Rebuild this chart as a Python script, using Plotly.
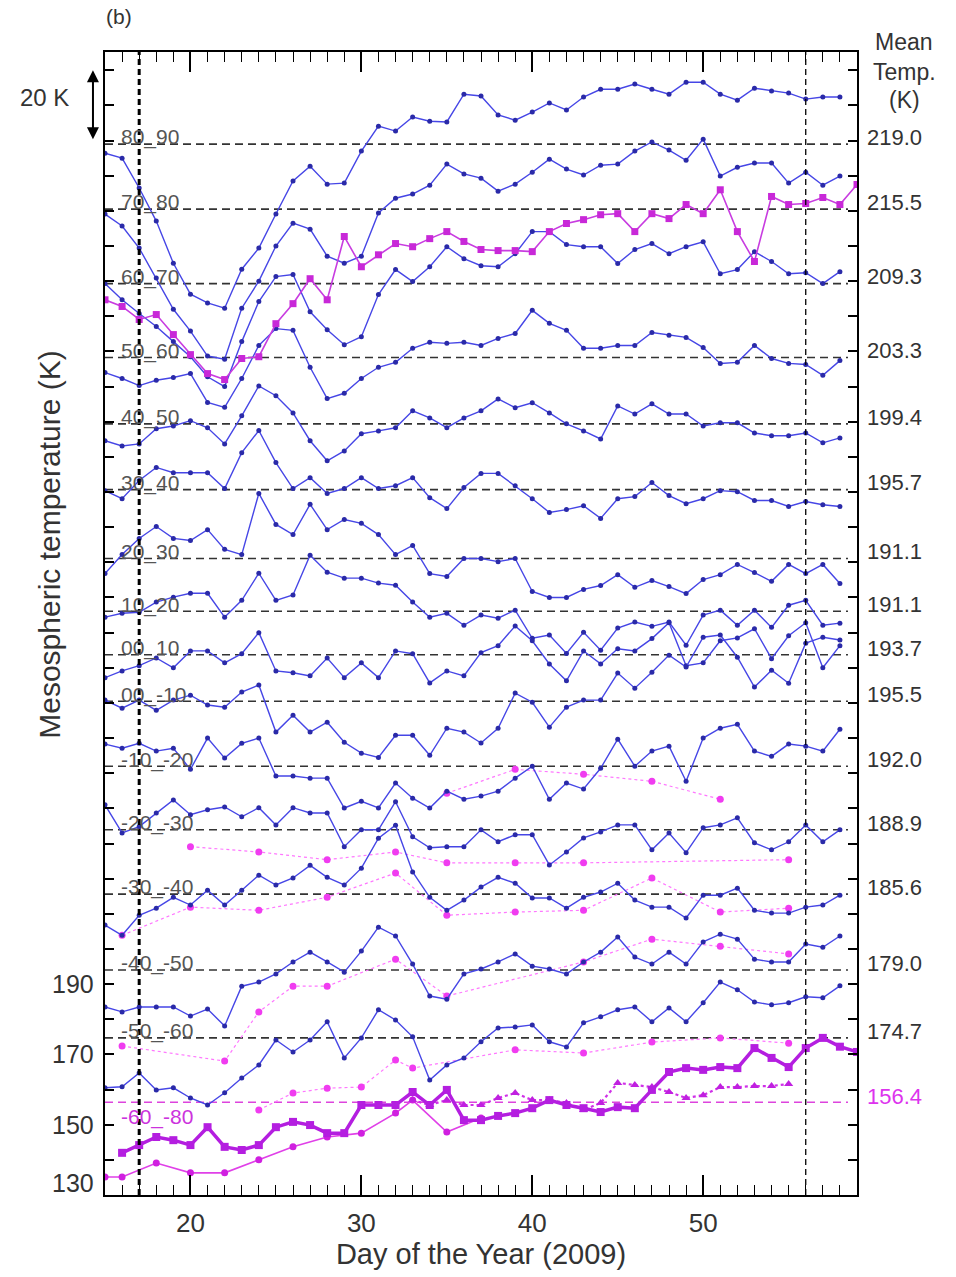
import plotly.graph_objects as go

# ---------------- data ----------------
days = list(range(15, 59))          # days of year for the blue (daily) series
days_ext = list(range(15, 60))      # top magenta series runs to day 59

band_names = ["80_90", "70_80", "60_70", "50_60", "40_50", "30_40", "20_30",
              "10_20", "00_10", "00_-10", "-10_-20", "-20_-30", "-30_-40",
              "-40_-50", "-50_-60"]
band_means = [219.0, 215.5, 209.3, 203.3, 199.4, 195.7, 191.1, 191.1, 193.7,
              195.5, 192.0, 188.9, 185.6, 179.0, 174.7]
band_offsets = [210, 195, 180, 165, 150, 135, 120, 105, 90, 75, 60, 45, 30, 15, 0]

bottom_name = "-60_-80"
bottom_mean = 156.4

# temperature deviation from band mean (K), days 15..58
dT_80_90 = [-2.6, -4.0, -12.5, -21.9, -33.9, -42.7, -45.2, -46.7, -35.6, -29.6, -19.9, -10.5, -6.3, -11.4, -11.1, -2.0,
            5.1, 3.7, 7.7, 6.5, 6.3, 14.2, 13.7, 8.3, 6.8, 9.1, 11.7, 9.7, 13.4, 15.6, 15.6, 17.1, 15.6, 14.2,
            17.6, 17.6, 14.2, 12.5, 15.9, 15.1, 14.5, 12.8, 13.4, 13.4]
dT_70_80 = [-1.4, -4.8, -11.1, -19.6, -28.5, -34.7, -41.8, -42.7, -28.2, -20.5, -10.5, -4.0, -5.7, -13.4, -15.4, -13.4,
            -1.1, 3.1, 4.3, 6.8, 12.8, 10.0, 8.8, 5.1, 7.1, 10.5, 14.2, 11.4, 9.7, 12.5, 12.8, 16.5, 19.1, 16.8,
            13.9, 19.9, 9.4, 11.9, 13.1, 13.1, 7.4, 10.5, 6.8, 9.4]
dT_60_70 = [0.0, -4.6, -8.5, -12.2, -16.5, -20.8, -26.5, -29.3, -16.5, -5.1, 2.0, 2.6, -8.0, -13.1, -17.4, -15.1,
            -3.1, 4.0, 0.6, 4.8, 10.5, 7.1, 5.1, 4.8, 8.5, 14.8, 14.8, 11.1, 10.5, 10.5, 5.7, 9.7, 11.4, 8.5,
            10.5, 11.9, 2.8, 4.0, 9.1, 6.3, 2.8, 3.1, 0.0, 3.4]
dT_50_60 = [-4.3, -6.0, -8.0, -6.5, -5.7, -4.6, -12.8, -14.2, -6.0, 3.4, 8.2, 7.7, -2.8, -11.7, -10.2, -6.0,
            -2.8, -1.4, 2.6, 4.3, 4.0, 4.3, 3.4, 5.4, 6.8, 13.4, 9.7, 7.7, 2.6, 2.6, 3.4, 3.4, 7.1, 6.3,
            5.7, 2.8, -1.7, -1.4, 3.4, -0.3, -1.7, -2.0, -5.1, -0.9]
dT_40_50 = [-4.8, -6.3, -5.7, -1.4, -0.6, 0.9, -1.1, -5.7, 2.3, 10.8, 8.0, 3.1, -4.8, -10.5, -7.7, -2.8,
            -2.0, -1.1, 3.7, 1.7, -1.1, 1.7, 3.7, 7.1, 4.6, 6.0, 3.1, 0.0, -2.0, -4.3, 5.1, 2.8, 5.7, 2.8,
            2.8, -0.6, 0.3, 0.3, -2.6, -3.4, -3.4, -2.6, -5.4, -4.0]
dT_30_40 = [-0.3, -2.6, 2.6, 6.3, 4.8, 4.8, 4.8, 0.3, 10.5, 16.8, 7.7, 0.3, 3.4, -1.1, 0.3, 3.4,
            0.3, 1.1, 3.4, -2.3, -5.4, 0.6, 4.6, 4.6, 1.1, -2.6, -6.5, -5.7, -4.6, -8.2, -2.6, -2.0, 2.0, -1.7,
            -4.0, -2.6, -0.3, -0.6, -3.1, -3.1, -4.8, -3.4, -4.3, -4.8]
dT_20_30 = [-4.3, 1.1, 5.7, 9.1, 5.7, 5.1, 8.2, 2.6, 1.1, 18.5, 9.7, 6.8, 15.4, 8.2, 11.1, 10.0,
            6.8, 1.1, 3.7, -4.3, -5.1, 0.0, 0.0, -0.9, 0.0, -9.4, -11.1, -11.1, -8.8, -7.7, -4.6, -8.2, -6.3, -8.0,
            -10.0, -6.0, -4.6, -1.7, -4.0, -6.5, -1.7, -4.3, -1.7, -7.1]
dT_10_20 = [-1.7, -0.6, -0.3, 2.6, 4.0, 5.1, 5.1, -1.7, 3.1, 10.8, 3.1, 4.6, 15.9, 11.1, 9.4, 9.4,
            8.0, 7.4, 2.6, -1.7, -0.6, -4.0, -1.1, -2.0, 0.3, -7.7, -6.8, -12.0, -6.0, -11.1, -4.8, -3.1, -4.3, -3.1,
            -9.7, -1.1, 0.3, -4.0, 0.3, -4.6, 1.7, 3.1, -4.0, -3.4]
dT_00_10 = [-6.5, -4.6, -3.1, -0.9, -3.7, 1.1, 1.1, -2.3, 0.3, 6.3, -4.6, -5.1, -6.0, -0.9, -6.5, -2.3,
            -6.5, 1.1, 0.3, -8.0, -4.6, -6.0, 0.6, 2.6, 8.2, 4.0, -2.6, -7.4, 1.1, -2.6, 1.7, 1.1, 4.6, 9.1,
            -3.1, -2.3, 4.0, 4.8, 7.4, -1.1, 5.4, 9.1, -3.7, 2.6]
dT_00_m10 = [0.3, -2.0, 0.3, -2.6, 0.3, 1.7, -1.1, -1.7, 2.6, 4.6, -8.8, -4.0, -8.8, -6.0, -11.7, -14.8,
             -16.0, -9.7, -9.7, -15.4, -7.7, -8.8, -11.9, -7.7, 2.3, -0.3, -7.4, -1.7, 0.3, 0.3, 8.0, 3.7, 8.2, 13.1,
             9.7, 18.2, 18.8, 12.5, 4.0, 8.8, 5.1, 16.5, 18.2, 17.4]
dT_m10_m20 = [6.3, 5.1, 6.5, 4.3, 5.1, -0.9, 8.0, 2.3, 6.5, 8.0, -2.8, -2.8, -3.4, -3.4, -11.9, -10.0,
              -11.9, -4.8, -9.1, -11.9, -7.1, -9.4, -8.5, -7.1, -3.4, 0.0, -9.4, -4.8, -6.5, -0.6, 7.7, 0.0, 4.3, 5.7,
              -4.3, 8.0, 10.8, 11.9, 4.3, 2.8, 6.3, 5.7, 4.3, 10.5]
dT_m20_m30 = [7.1, -0.9, 0.9, 4.8, 8.5, 4.3, 5.7, 6.5, 3.7, 6.3, 1.4, 6.3, 4.8, 4.8, -4.8, 0.0,
              0.0, 8.0, -2.0, -5.1, -4.8, -4.8, 0.0, -3.4, -1.4, -1.4, -10.0, -6.3, -2.3, -0.6, 1.4, 1.4, -5.7, -0.9,
              -6.5, 0.6, 1.4, 3.4, -3.7, -5.7, -3.4, 1.4, -3.4, 0.0]
dT_m30_m40 = [-8.8, -11.7, -6.0, -4.0, -0.9, -3.1, 1.1, -3.1, 1.1, 5.4, 2.6, 4.6, 8.2, 4.8, 2.6, 7.4,
              15.9, 19.6, 6.3, -0.9, -4.6, -1.7, 2.0, 4.8, 3.1, -1.1, -1.1, -4.0, -0.9, 0.6, 3.1, -1.7, -3.7, -3.7,
              -6.8, -0.3, -0.3, 1.7, -4.6, -5.4, -5.4, -3.7, -3.1, -0.3]
dT_m40_m50 = [-10.5, -11.9, -10.5, -10.5, -10.5, -13.1, -11.1, -15.9, -4.6, -3.4, -1.1, 2.3, 5.1, 2.3, -0.6, 5.4,
              12.2, 9.7, 1.7, -7.4, -8.3, -1.1, 0.3, 2.3, 4.6, 1.1, 0.3, -1.1, 2.3, 5.1, 9.4, 3.7, 1.7, 5.1,
              1.7, 8.0, 10.2, 8.8, 3.1, 2.3, 2.3, 7.4, 6.5, 9.7]
dT_m50_m60 = [-14.2, -13.9, -10.0, -14.8, -14.2, -17.1, -19.1, -15.6, -11.4, -7.7, -0.6, -4.0, -0.6, 4.6, -5.7, 0.0,
              8.0, 5.1, 0.3, -12.0, -7.7, -5.7, -1.1, 2.8, 3.1, 3.7, -1.1, -2.6, 4.3, 6.0, 8.0, 8.8, 4.6, 8.5,
              4.6, 10.0, 15.9, 13.7, 10.2, 9.4, 10.0, 11.7, 11.4, 14.8]

blue_series = [dT_80_90, dT_70_80, dT_60_70, dT_50_60, dT_40_50, dT_30_40, dT_20_30,
               dT_10_20, dT_00_10, dT_00_m10, dT_m10_m20, dT_m20_m30, dT_m30_m40,
               dT_m40_m50, dT_m50_m60]

# magenta series in the 60_70 band (deviation from 209.3 K), days 15..59
dT_mag_60_70 = [-4.6, -6.5, -10.2, -8.8, -14.5, -20.2, -25.6, -27.3, -21.3, -20.8, -11.4, -5.7, 1.4, -4.6, 13.4,
                4.8, 8.2, 11.4, 10.5, 12.8, 14.8, 12.0, 9.7, 9.4, 9.4, 9.1, 14.8, 17.1, 18.2, 19.6, 19.9,
                14.8, 19.9, 18.5, 22.5, 19.9, 26.7, 14.8, 6.3, 24.8, 22.5, 22.8, 24.5, 22.5, 28.2]

# sparse magenta (dotted) series: days, deviation from the band mean
sp_a_days = [35, 39, 43, 47, 51]
sp_a_dT = [-7.7, -0.9, -2.3, -4.3, -9.4]                      # -10_-20 band
sp_b_days = [20, 24, 28, 32, 35, 39, 43, 55]
sp_b_dT = [-4.8, -6.3, -8.5, -6.3, -9.4, -9.4, -9.4, -8.5]     # -20_-30 band
sp_c_days = [16, 20, 24, 28, 32, 35, 39, 43, 47, 51, 55]
sp_c_dT = [-11.7, -3.7, -4.6, -0.9, 6.0, -6.0, -5.1, -4.6, 4.6, -5.1, -4.0]   # -30_-40 band
sp_d_days = [16, 22, 24, 26, 28, 32, 35, 43, 47, 51, 55]
sp_d_dT = [-21.6, -25.9, -11.9, -4.6, -4.6, 3.1, -7.4, 2.3, 8.8, 6.8, 4.6]    # -40_-50 band

# bottom band (-60_-80), absolute temperatures (K)
p_days = list(range(16, 60))
p_temp = [142.0, 144.2, 146.5, 145.6, 144.2, 149.3, 143.7, 142.8, 144.2, 149.3, 150.8, 149.9, 147.6, 147.6,
          155.6, 155.6, 155.6, 159.3, 155.6, 159.9, 151.3, 151.3, 152.5, 153.3, 154.7, 157.0, 155.6, 154.7,
          153.6, 155.0, 154.7, 159.9, 165.0, 166.1, 165.6, 166.4, 166.1, 171.8, 169.0, 166.4, 171.8, 174.7,
          172.2, 170.7]
q_days = [15, 16, 18, 20, 22, 24, 26, 28, 30, 32, 33, 35, 37]
q_temp = [135.1, 135.1, 139.1, 136.3, 136.3, 140.0, 143.7, 146.5, 147.6, 153.3, 157.0, 147.9, 151.9]
r_days = list(range(33, 56))
r_temp = [157.0, 155.6, 157.0, 155.6, 155.6, 157.6, 159.0, 157.0, 157.0, 156.2, 154.2, 156.2, 161.9, 161.3,
          160.7, 159.3, 157.6, 158.4, 160.7, 160.7, 161.0, 161.0, 161.6]
s_days = [24, 26, 28, 30, 32, 33, 39, 43, 47, 51, 55]
s_temp = [154.2, 159.0, 160.4, 160.7, 168.4, 166.1, 171.3, 170.4, 173.5, 174.7, 173.2]

ytick_labelled = [130, 150, 170, 190]

# ---------------- figure ----------------
FONT = "Liberation Sans, Arial, sans-serif"
TXT = "#333333"
BLUE = "#4646e6"
BLUE_M = "#2a2aa8"
fig = go.Figure()

dash_vals = [m + o for m, o in zip(band_means, band_offsets)]

# band dashed reference lines
for dv in dash_vals:
    fig.add_shape(type="line", xref="paper", x0=0, x1=0.988, yref="y", y0=dv, y1=dv,
                  line=dict(color=TXT, width=1.6, dash="8px,5px"), layer="below")
fig.add_shape(type="line", xref="paper", x0=0, x1=0.988, yref="y", y0=bottom_mean, y1=bottom_mean,
              line=dict(color="#dd44dd", width=1.6, dash="8px,5px"), layer="below")

# vertical reference lines
fig.add_shape(type="line", x0=17, x1=17, yref="paper", y0=0, y1=1,
              line=dict(color="black", width=3, dash="6px,4px"))
fig.add_shape(type="line", x0=56, x1=56, yref="paper", y0=0, y1=1,
              line=dict(color="black", width=1.3, dash="6px,4px"))

def sparse(days_, dT, band_i):
    base = band_means[band_i] + band_offsets[band_i]
    fig.add_trace(go.Scatter(x=days_, y=[base + d for d in dT], mode="lines+markers",
                             line=dict(color="#ff77ff", width=1.2, dash="dot"),
                             marker=dict(color="#f03cf0", size=7, symbol="circle"),
                             showlegend=False, cliponaxis=False))

sparse(sp_a_days, sp_a_dT, 10)
sparse(sp_b_days, sp_b_dT, 11)
sparse(sp_c_days, sp_c_dT, 12)
sparse(sp_d_days, sp_d_dT, 13)

# bottom band magenta series
fig.add_trace(go.Scatter(x=s_days, y=s_temp, mode="lines+markers",
                         line=dict(color="#ff77ff", width=1.2, dash="dot"),
                         marker=dict(color="#f03cf0", size=7), showlegend=False))
fig.add_trace(go.Scatter(x=q_days, y=q_temp, mode="lines+markers",
                         line=dict(color="#e040e8", width=1.6),
                         marker=dict(color="#d020e0", size=7), showlegend=False))
fig.add_trace(go.Scatter(x=r_days, y=r_temp, mode="lines+markers",
                         line=dict(color="#d030e8", width=2.2, dash="dot"),
                         marker=dict(color="#c020e0", size=8, symbol="triangle-up"), showlegend=False))
fig.add_trace(go.Scatter(x=p_days, y=p_temp, mode="lines+markers",
                         line=dict(color="#b41ee0", width=3.5),
                         marker=dict(color="#b41ee0", size=8, symbol="square"), showlegend=False))

# blue series
for i, series in enumerate(blue_series):
    base = band_means[i] + band_offsets[i]
    fig.add_trace(go.Scatter(x=days, y=[base + d for d in series], mode="lines+markers",
                             line=dict(color=BLUE, width=1.4),
                             marker=dict(color=BLUE_M, size=5), showlegend=False))

# magenta series in upper bands
base_60_70 = band_means[2] + band_offsets[2]
fig.add_trace(go.Scatter(x=days_ext, y=[base_60_70 + d for d in dT_mag_60_70], mode="lines+markers",
                         line=dict(color="#c83ce0", width=1.6),
                         marker=dict(color="#c828d8", size=7, symbol="square"), showlegend=False))

ann = []
# band labels (left) and mean temperature labels (right)
for name, dv, m in zip(band_names, dash_vals, band_means):
    ann.append(dict(x=15.8, y=dv + 1.9, xref="x", yref="y", text=name, showarrow=False,
                    xanchor="left", yanchor="middle", font=dict(size=21, color="#555555", family=FONT)))
    ann.append(dict(x=1.01, y=dv + 1.9, xref="paper", yref="y", text=f"{m:.1f}", showarrow=False,
                    xanchor="left", yanchor="middle", font=dict(size=22, color=TXT, family=FONT)))
ann.append(dict(x=15.8, y=bottom_mean - 4.3, xref="x", yref="y", text=bottom_name, showarrow=False,
                xanchor="left", yanchor="middle", font=dict(size=21, color="#cc33dd", family=FONT)))
ann.append(dict(x=1.01, y=bottom_mean + 1.5, xref="paper", yref="y", text=f"{bottom_mean:.1f}",
                showarrow=False, xanchor="left", yanchor="middle",
                font=dict(size=22, color="#dd33ee", family=FONT)))

# header on the right
for txt, yp in [("Mean", 1.0087), ("Temp.", 0.9825), ("(K)", 0.958)]:
    ann.append(dict(x=1.063, y=yp, xref="paper", yref="paper", text=txt, showarrow=False,
                    xanchor="center", yanchor="middle", font=dict(size=23, color=TXT, family=FONT)))

# left tick labels (drawn as text so that 130 sits just above the bottom edge like the source)
for v in ytick_labelled:
    ann.append(dict(x=-0.012, y=(133.4 if v == 130 else v), xref="paper", yref="y", text=str(v),
                    showarrow=False, xanchor="right", yanchor="middle",
                    font=dict(size=25, color=TXT, family=FONT)))

# panel tag, scale arrow, y title
ann.append(dict(x=0.018, y=1.031, xref="paper", yref="paper", text="(b)", showarrow=False,
                xanchor="center", yanchor="middle", font=dict(size=21, color=TXT, family=FONT)))
ann.append(dict(x=-0.08, y=0.96, xref="paper", yref="paper", text="20 K", showarrow=False,
                xanchor="center", yanchor="middle", font=dict(size=24, color=TXT, family=FONT)))
ann.append(dict(x=-0.016, y=430.4, xref="paper", yref="y", ax=0, ay=450.4, axref="pixel", ayref="y",
                text="", showarrow=True, arrowhead=2, arrowside="end+start", arrowsize=1.2,
                arrowwidth=2, arrowcolor="black"))
ann.append(dict(x=-0.073, y=0.569, xref="paper", yref="paper", text="Mesospheric temperature (K)",
                showarrow=False, textangle=-90, xanchor="center", yanchor="middle",
                font=dict(size=30, color=TXT, family=FONT)))

ytick_vals = list(range(130, 456, 10))

fig.update_layout(
    width=956, height=1277,
    margin=dict(l=105, r=99, t=52, b=82),
    paper_bgcolor="white", plot_bgcolor="white",
    showlegend=False,
    annotations=ann,
    font=dict(family=FONT, color=TXT),
    xaxis=dict(range=[15, 59], tickvals=[20, 30, 40, 50], ticks="inside", ticklen=20, tickwidth=1.5,
               tickcolor="black", showline=True, linewidth=2, linecolor="black", mirror="ticks",
               showgrid=False, zeroline=False, tickfont=dict(size=26, color=TXT),
               ticklabelstandoff=4,
               minor=dict(dtick=1, tick0=15, ticks="inside", ticklen=10, tickwidth=1.3, tickcolor="black",
                          showgrid=False),
               title=dict(text="Day of the Year (2009)", font=dict(size=29, color=TXT), standoff=2)),
    yaxis=dict(range=[130, 455.2], tickvals=ytick_vals, ticktext=["" for _ in ytick_vals], ticks="inside",
               ticklen=9, tickwidth=1.5, tickcolor="black", showline=True, linewidth=2, linecolor="black",
               mirror="ticks", showgrid=False, zeroline=False),
)

fig.write_html("out.html")
